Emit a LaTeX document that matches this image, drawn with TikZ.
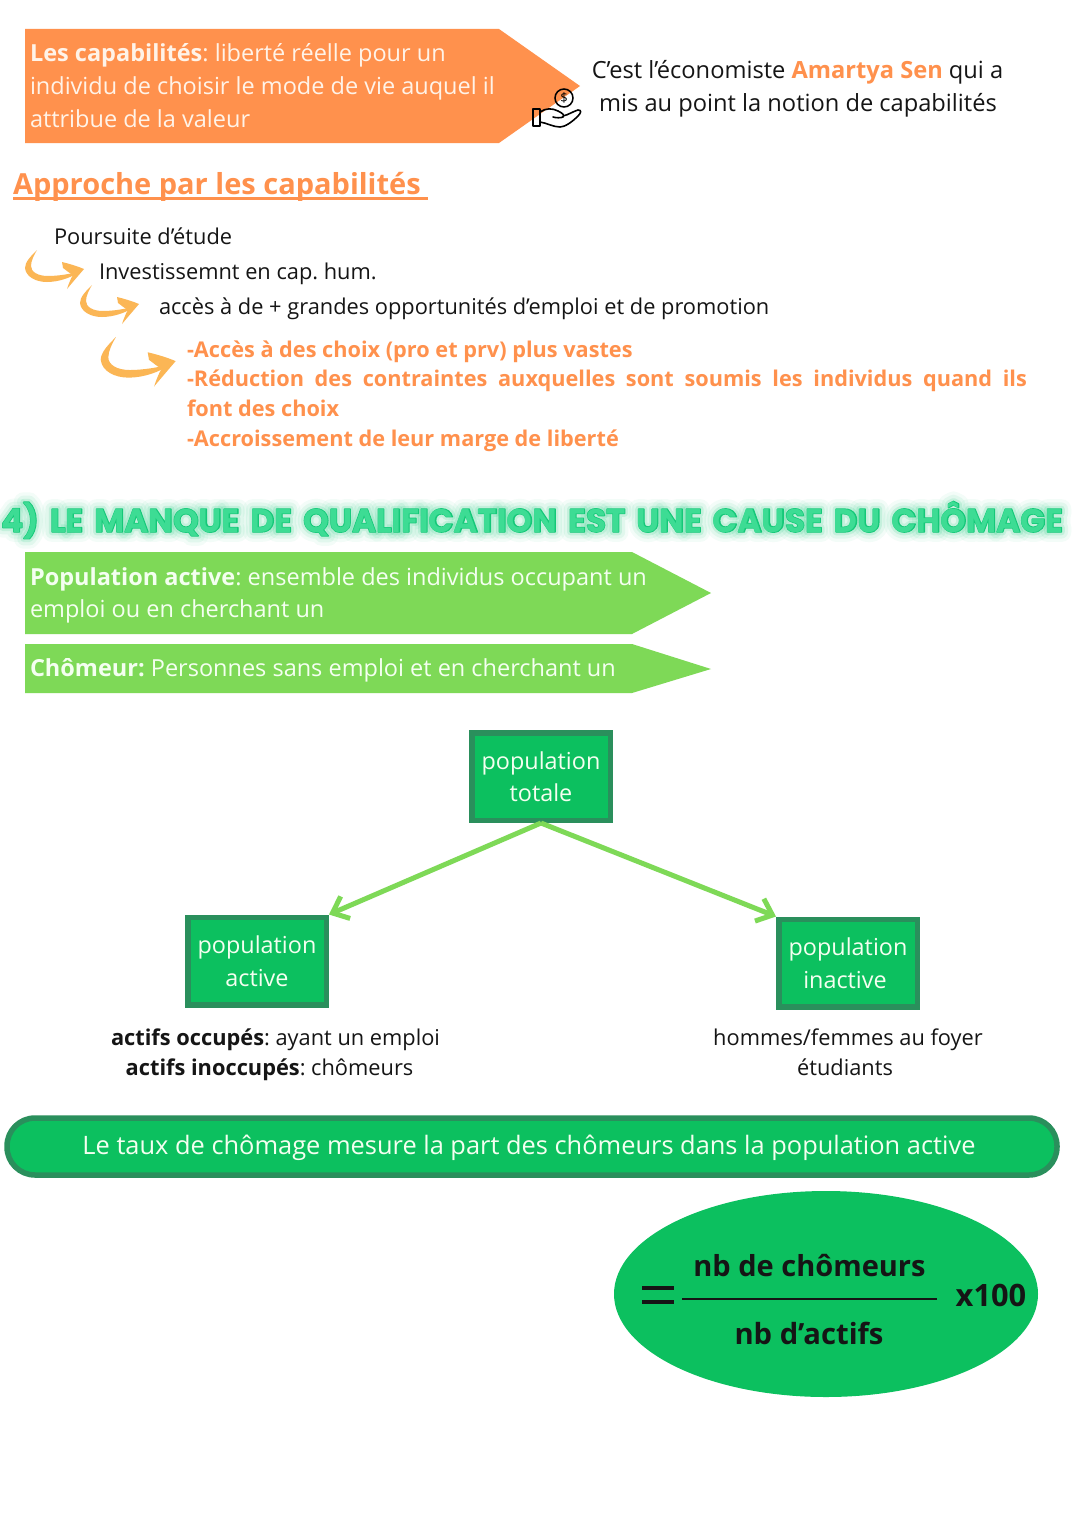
\documentclass[tikz,border=0pt]{standalone}
\usepackage{fontspec}
\usetikzlibrary{arrows.meta,shapes.geometric}
\setmainfont{Open Sans}
\newfontfamily\headfont{Poppins}[UprightFont=* Bold,WordSpace=1.6]
\newfontfamily\headA{Poppins}[UprightFont=* Bold,WordSpace=1.6,FakeBold=4]
\newfontfamily\headB{Poppins}[UprightFont=* Bold,WordSpace=1.6,FakeBold=20]
\newfontfamily\headC{Poppins}[UprightFont=* Bold,WordSpace=1.6,FakeBold=40]
\newfontfamily\headD{Poppins}[UprightFont=* Bold,WordSpace=1.6,FakeBold=60]
\definecolor{orangeA}{HTML}{FF914D}
\definecolor{curlyC}{HTML}{FBB655}
\definecolor{greenA}{HTML}{7ED957}
\definecolor{greenB}{HTML}{0CC05F}
\definecolor{greenD}{HTML}{2A8F5C}
\definecolor{greenH}{HTML}{14C878}
\definecolor{greenI}{HTML}{3DDC94}
\definecolor{paleT}{HTML}{FFF3E8}
\definecolor{paleG}{HTML}{F4FFF0}
\definecolor{textK}{HTML}{151515}
\newcommand{\headtext}{4) LE MANQUE DE QUALIFICATION EST UNE CAUSE DU CHÔMAGE}
\tikzset{
  x=1pt,y=-1pt,
  txt/.style={inner sep=0pt,outer sep=0pt,font=\fontsize{21.8}{30}\selectfont,text=textK,anchor=base west},
  ctxt/.style={txt,anchor=base},
  sentxt/.style={ctxt,font=\fontsize{23.65}{30}\selectfont},
  otxt/.style={txt,text=orangeA,font=\fontsize{21.7}{30}\selectfont\bfseries},
  onbanner/.style={txt,text=paleT,font=\fontsize{23.5}{32.5}\selectfont},
  ongreen/.style={txt,text=paleG,font=\fontsize{23.5}{32.5}\selectfont},
  popbox/.style={draw=greenD,line width=5.5pt,fill=greenB,minimum width=138.5pt,minimum height=87.5pt,inner sep=0pt,
     align=center,text=paleG,font=\fontsize{23.4}{32.5}\selectfont},
  poparrow/.style={draw=greenA,line width=5pt,-{Straight Barb[length=14pt,width=24pt,line width=5pt]}},
  headglow/.style={inner sep=0pt,anchor=base west},
  curly/.pic={
    \fill[curlyC] (11,0) .. controls (5,6) and (-1,12) .. (-1,18) .. controls (0,27) and (10,32) .. (21,32)
       .. controls (32,32) and (45,28) .. (55,21) .. controls (45,24) and (32,26) .. (22,26)
       .. controls (12,26) and (5,22) .. (5,16) .. controls (5,11) and (8,5) .. (11,0) -- cycle;
    \fill[curlyC] (36,12) .. controls (44,14) and (51,16) .. (58,19) .. controls (52,26) and (46,33) .. (41,39)
       .. controls (43,33) and (45,28) .. (47,25) .. controls (43,23) and (40,20) .. (37,18) -- cycle;
  }
}
\begin{document}
\begin{tikzpicture}
\useasboundingbox (0,0) rectangle (1080,1528);
\fill[white] (0,0) rectangle (1080,1528);
% Banner 1
\fill[orangeA] (25,29) -- (499,29) -- (580,86) -- (499,143) -- (25,143) -- cycle;
\node[onbanner] (l1) at (30,62) {\textbf{Les capabilités}:\kern-2pt{} liberté réelle pour un};
\node[onbanner] (l2) at (30,94) {individu de choisir le mode de vie auquel il};
\node[onbanner] (l3) at (30,127) {attribue de la valeur};
% hand icon
\draw[black,line width=1.5pt] (564,98) circle (9);
\node[inner sep=0pt,font=\fontsize{13}{13}\selectfont] (coin) at (564,98) {\$};
\draw[black,line width=1.6pt,line join=round] (533,109) rectangle (540,126);
\draw[black,line width=1.6pt,line join=round,line cap=round]
  (540,112) .. controls (546,108) and (552,108) .. (558,111) .. controls (562,113) and (565,115) .. (563,117)
  .. controls (561,118) and (556,118) .. (553,117)
  (563,116) .. controls (568,115) and (574,111) .. (578,110) .. controls (582,110) and (581,113) .. (578,116)
  .. controls (572,122) and (565,127) .. (560,127) .. controls (553,127) and (547,123) .. (540,122);
% Right text
\node[sentxt] (sen1) at (797.5,78) {C’est l’économiste \textcolor{orangeA}{\textbf{Amartya Sen}} qui a};
\node[sentxt] (sen2) at (798,111) {mis au point la notion de capabilités};
% Approche
\node[txt,text=orangeA,font=\fontsize{29}{36}\selectfont\bfseries] (appr) at (13,194) {Approche par les capabilités};
\fill[orangeA] (13,197) rectangle (428,199.5);
% chain
\node[txt] (c1) at (54,244) {Poursuite d’étude};
\node[txt] (c2) at (99,279) {Investissemnt en cap.\kern-2pt{} hum.};
\node[txt] (c3) at (159,314) {accès à de + grandes opportunités d’emploi et de promotion};
\pic at (26,250) {curly};
\pic at (81,285) {curly};
\pic[scale=1.27] at (102,337) {curly};
% orange list
\node[otxt] (o1) at (187,357) {-Accès à des choix (pro et prv) plus vastes};
\node[otxt] (o2) at (187,386) {\makebox[840pt][s]{-Réduction des contraintes auxquelles sont soumis les individus quand ils}};
\node[otxt] (o3) at (187,416) {font des choix};
\node[otxt] (o4) at (187,446) {-Accroissement de leur marge de liberté};
% heading with glow
\begin{scope}[line join=round,miter limit=1]
\node[headglow,text=greenH,opacity=0.05,font=\headD\fontsize{32.7}{36}\selectfont] (hd) at (1,532) {\headtext};
\node[headglow,text=greenH,opacity=0.08,font=\headC\fontsize{32.7}{36}\selectfont] (hc) at (1,532) {\headtext};
\node[headglow,text=greenH,opacity=0.14,font=\headB\fontsize{32.7}{36}\selectfont] (hb) at (1,532) {\headtext};
\node[headglow,text=greenH,font=\headA\fontsize{32.7}{36}\selectfont] (ha) at (1,532) {\headtext};
\node[headglow,text=greenI,font=\headfont\fontsize{32.7}{36}\selectfont] (head) at (1,532) {\headtext};
\end{scope}
% green banners
\fill[greenA] (25,552) -- (632,552) -- (711,593) -- (632,634) -- (25,634) -- cycle;
\node[ongreen] (g1) at (30,585) {\textbf{Population active}:\kern-2pt{} ensemble des individus occupant un};
\node[ongreen] (g2) at (30,617) {emploi ou en cherchant un};
\fill[greenA] (25,644) -- (632,644) -- (711,669) -- (632,693) -- (25,693) -- cycle;
\node[ongreen] (g3) at (30,676) {\textbf{Chômeur:}\kern-2pt{} Personnes sans emploi et en cherchant un};
% boxes
\node[popbox] (tot) at (541,776.5) {population\\totale};
\node[popbox] (act) at (257,961) {population\\active};
\node[popbox] (ina) at (848,963) {population\\inactive\hspace*{6pt}};
\draw[poparrow] (tot.south) -- (act.north east);
\draw[poparrow] (tot.south) -- (ina.north west);
% captions
\node[ctxt] (a1) at (275.5,1045) {\textbf{actifs occupés}:\kern-2pt{} ayant un emploi};
\node[ctxt] (a2) at (269.5,1075) {\textbf{actifs inoccupés}:\kern-2pt{} chômeurs};
\node[ctxt] (i1) at (848,1045) {hommes/femmes au foyer};
\node[ctxt] (i2) at (845,1075) {étudiants};
% pill
\node[draw=greenD,line width=5.5pt,fill=greenB,rounded corners=28pt,minimum width=1050pt,minimum height=57pt,inner sep=0pt] (pill) at (532,1146.5) {};
\node[txt,anchor=base,text=paleG,font=\fontsize{25.4}{30}\selectfont] (pt) at (529,1154) {Le taux de chômage mesure la part des chômeurs dans la population active};
% ellipse
\node[ellipse,fill=greenB,minimum width=424pt,minimum height=206pt,inner sep=0pt] (ell) at (826,1294) {};
\fill[textK] (642,1286) rectangle (674,1290);
\fill[textK] (642,1300) rectangle (674,1304);
\node[ctxt,font=\fontsize{29}{30}\selectfont\bfseries] (num) at (809.5,1276) {nb de chômeurs};
\node[ctxt,font=\fontsize{29.2}{30}\selectfont\bfseries] (den) at (809,1344) {nb d’actifs};
\node[ctxt,font=\fontsize{30.8}{30}\selectfont\bfseries] (xc) at (991,1306) {x100};
\fill[textK] (682,1298) rectangle (937,1300);
\end{tikzpicture}
\end{document}
